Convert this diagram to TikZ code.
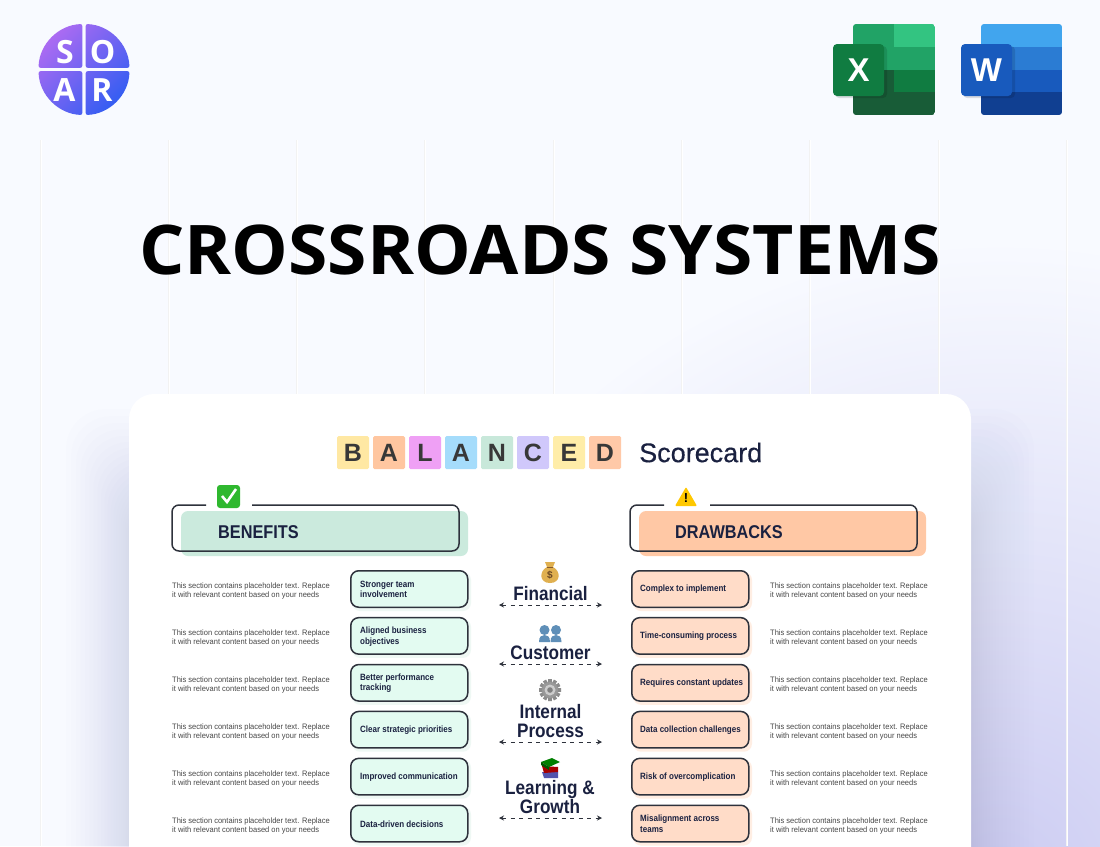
\documentclass[tikz,border=0pt]{standalone}
\usepackage{fontspec}
\setmainfont{Liberation Sans}
\newfontfamily\titlefont[FakeStretch=1.042]{Open Sans}
\newfontfamily\logofont{Open Sans}
\newfontfamily\itemfont[FakeStretch=0.88]{Liberation Sans}
\newfontfamily\bodyfont[FakeStretch=0.95]{Liberation Sans}
\newfontfamily\scorefont[FakeBold=0.35]{Liberation Sans}
\usetikzlibrary{arrows.meta,calc}
\definecolor{bgc}{HTML}{F8FAFF}
\definecolor{lav}{HTML}{CCCCF2}
\definecolor{shd}{HTML}{8A90D0}
\definecolor{ink}{HTML}{1A2140}
\definecolor{edge}{HTML}{2E323C}
\definecolor{mint}{HTML}{E3FBF1}
\definecolor{minthd}{HTML}{CBEADD}
\definecolor{peach}{HTML}{FFDCC8}
\definecolor{peachhd}{HTML}{FFC8A5}
\definecolor{logoa}{HTML}{B66CF2}
\definecolor{logob}{HTML}{2A5CF2}
\definecolor{xlg1}{HTML}{21A366}
\definecolor{xlg2}{HTML}{33C481}
\definecolor{xlg3}{HTML}{107C41}
\definecolor{xlg4}{HTML}{185C37}
\definecolor{wd1}{HTML}{41A5EE}
\definecolor{wd2}{HTML}{2B7CD3}
\definecolor{wd3}{HTML}{185ABD}
\definecolor{wd4}{HTML}{103F91}
\definecolor{bagc}{HTML}{E0B050}
\definecolor{bust}{HTML}{5F8FB8}
\definecolor{chk}{HTML}{2FB82F}
\definecolor{warnc}{HTML}{FFC800}
\tikzset{
  lettercell/.style={minimum width=32pt,minimum height=33pt,inner sep=0pt,rounded corners=1.5pt,text=black!78,font=\fontsize{25}{25}\selectfont\bfseries},
  headfill/.style={rounded corners=7pt},
  headline/.style={draw=edge,line width=1.5pt},
  headtext/.style={anchor=west,inner sep=0pt,text=ink,font=\itemfont\fontsize{18.5}{18.5}\selectfont\bfseries},
  itembox/.style={anchor=north west,draw=edge,line width=1.5pt,rounded corners=8pt,minimum width=117pt,minimum height=36.5pt,inner sep=0pt},
  itemshadow/.style={rounded corners=8pt,opacity=.3},
  itemtext/.style={anchor=west,inner sep=0pt,align=left,text=ink,font=\itemfont\fontsize{9.1}{10.6}\selectfont\bfseries},
  bodytext/.style={anchor=west,inner sep=0pt,align=left,text=black!72,font=\bodyfont\fontsize{7.9}{9}\selectfont},
  midtext/.style={inner sep=0pt,align=center,text=ink,font=\itemfont\fontsize{19.5}{19}\selectfont\bfseries},
  dasharrow/.style={draw=edge,line width=.8pt,dash pattern=on 4pt off 4.5pt,{Stealth[length=5pt,width=5pt]}-{Stealth[length=5pt,width=5pt]}},
  gridline/.style={line width=1.5pt,white},
  logoletter/.style={inner sep=0pt,text=white,font=\logofont\fontsize{32}{32}\selectfont\bfseries},
  officeletter/.style={inner sep=0pt,text=white,font=\fontsize{33}{33}\selectfont\bfseries}
}
\begin{document}
\begin{tikzpicture}[x=1pt,y=-1pt]
\useasboundingbox (0,0) rectangle (1100,846);
% background
\fill[bgc] (0,0) rectangle (1100,846);
\begin{scope}
\clip (0,0) rectangle (1100,846);
\shade[inner color=lav,outer color=bgc] (1000,880) circle (640);
\foreach \x in {41,169,297,425,554,682,810,939,1067}{
  \draw[black!5,line width=1pt] (\x-1,140) -- (\x-1,846);
  \draw[gridline] (\x+.3,140) -- (\x+.3,846);
}
\foreach \i in {1,...,25}{
  \pgfmathsetmacro{\off}{65*(\i/25)^2}
  \fill[shd,opacity=.011,rounded corners=40pt] (131-\off,500-1.4*\off) rectangle (969+\off,900);
}
\fill[white,rounded corners=25pt] (129,394) rectangle (971,900);
\end{scope}
% SOAR logo
\begin{scope}
\clip[rounded corners=2pt]
  (82.3,67.8) -- (38.53,67.8) arc[start angle=182.14,end angle=267.86,radius=45.5] -- cycle
  (85.7,67.8) -- (85.7,24.03) arc[start angle=272.14,end angle=357.86,radius=45.5] -- cycle
  (85.7,71.2) -- (129.47,71.2) arc[start angle=2.14,end angle=87.86,radius=45.5] -- cycle
  (82.3,71.2) -- (82.3,114.97) arc[start angle=92.14,end angle=177.86,radius=45.5] -- cycle;
\shade[top color=logoa,bottom color=logob,shading angle=45] (30,15) rectangle (138,124);
\end{scope}
\node[logoletter] (ls) at (65,52.5) {S};
\node[logoletter] (lo) at (102.5,52.5) {O};
\node[logoletter] (la) at (64.5,90) {A};
\node[logoletter] (lr) at (102,90) {R};
% Excel
\begin{scope}
\clip[rounded corners=3pt] (853,24) rectangle (935,115);
\fill[xlg1] (853,24) rectangle (894,47);
\fill[xlg2] (894,24) rectangle (935,47);
\fill[xlg1] (853,47) rectangle (935,70);
\fill[xlg4] (853,70) rectangle (894,92);
\fill[xlg3] (894,70) rectangle (935,92);
\fill[xlg4] (853,92) rectangle (935,115);
\end{scope}
\fill[black,opacity=.12,rounded corners=4pt] (835,46) rectangle (887,98);
\fill[xlg3,rounded corners=4pt] (833,44) rectangle (884,96);
\node[officeletter] (xl) at (858.5,70) {X};
% Word
\begin{scope}
\clip[rounded corners=3pt] (981,24) rectangle (1062,115);
\fill[wd1] (981,24) rectangle (1062,47);
\fill[wd2] (981,47) rectangle (1062,70);
\fill[wd3] (981,70) rectangle (1062,92);
\fill[wd4] (981,92) rectangle (1062,115);
\end{scope}
\fill[black,opacity=.12,rounded corners=4pt] (963,46) rectangle (1015,98);
\fill[wd3,rounded corners=4pt] (961,44) rectangle (1012,96);
\node[officeletter] (wl) at (986.5,70) {W};
% Title
\node[inner sep=0pt,text=black,font=\titlefont\fontsize{68.5}{69}\selectfont\bfseries] (title) at (540,249.5) {CROSSROADS SYSTEMS};
% Balanced
\foreach \n/\lt/\cc [count=\i from 0] in {b1/B/FFE8A3,b2/A/FFC6A0,b3/L/EFA0F5,b4/A/A5DCFB,b5/N/C8E8DA,b6/C/D0C8FB,b7/E/FFEDA8,b8/D/FFC9A8}{
  \definecolor{cellc}{HTML}{\cc}
  \node[lettercell,fill=cellc] (\n) at (353+36*\i,452.5) {\lt};
}
\node[anchor=west,inner sep=0pt,text=ink,font=\scorefont\fontsize{27}{27}\selectfont] (score) at (639,452.5) {Scorecard};
% Benefits head
\fill[minthd,headfill] (181,511) rectangle (468,556);
\draw[headline,rounded corners=7pt] (206,505) -- (172,505) -- (172,551) -- (459,551) -- (459,505) -- (252,505);
\node[headtext] (ben) at (218,532) {BENEFITS};
\fill[chk,rounded corners=3pt] (217,485) rectangle (240,508);
\draw[white,line width=2.6pt] (222,496) -- (227,502) -- (236,489);
% Drawbacks head
\fill[peachhd,headfill] (639,511) rectangle (926,556);
\draw[headline,rounded corners=7pt] (664,505) -- (630,505) -- (630,551) -- (917,551) -- (917,505) -- (710,505);
\node[headtext] (dra) at (675,532) {DRAWBACKS};
\fill[warnc,rounded corners=1pt] (686,487) -- (697,506) -- (675,506) -- cycle;
\node[inner sep=0pt,text=black,font=\fontsize{13}{13}\selectfont\bfseries] (warn) at (686,498) {!};
% Rows
\foreach \ii/\ll/\rr [count=\k from 0] in {
 1/{Stronger team\\involvement}/{Complex to implement},
 2/{Aligned business\\objectives}/{Time-consuming process},
 3/{Better performance\\tracking}/{Requires constant updates},
 4/{Clear strategic priorities}/{Data collection challenges},
 5/{Improved communication}/{Risk of overcomplication},
 6/{Data-driven decisions}/{Misalignment across\\teams}}{
  \pgfmathsetmacro{\yy}{570+46.9*\k}
  \fill[minthd,itemshadow] (352,\yy+2) rectangle (471,\yy+41);
  \node[itembox,fill=mint] (lb\ii) at (350,\yy) {};
  \node[itemtext] (lt\ii) at (360,\yy+19.5) {\ll};
  \node[bodytext] (lp\ii) at (172,\yy+21) {This section contains placeholder text. Replace\\it with relevant content based on your needs};
  \fill[peachhd,itemshadow] (633,\yy+2) rectangle (752,\yy+41);
  \node[itembox,fill=peach] (rb\ii) at (631,\yy) {};
  \node[itemtext] (rt\ii) at (640,\yy+19.5) {\rr};
  \node[bodytext] (rp\ii) at (770,\yy+21) {This section contains placeholder text. Replace\\it with relevant content based on your needs};
}
% Middle labels
\node[midtext] (mf) at (550.5,594) {Financial};
\node[midtext] (mc) at (550.5,653) {Customer};
\node[midtext] (mi) at (550.5,721) {Internal\\Process};
\node[midtext] (ml) at (550,797) {Learning \&\\Growth};
\foreach \n/\y in {f/605,c/664,i/742,l/818}{
  \coordinate (a\n) at (499,\y);
  \coordinate (b\n) at (602,\y);
  \draw[dasharrow] (a\n) -- (b\n);
}
% money bag
\fill[bagc] (545,562) -- (555,562) -- (553,567) .. controls (561,571) and (561,583) .. (550,583) .. controls (539,583) and (539,571) .. (547,567) -- cycle;
\draw[brown!70!black,line width=1pt] (547,567) -- (553,567);
\node[inner sep=0pt,text=brown!55!black,font=\fontsize{10}{10}\selectfont\bfseries] (dollar) at (550,575.5) {\$};
% busts
\foreach \cx in {544.5,556}{
  \fill[bust] (\cx,630) circle (5);
  \fill[bust] (\cx-5.5,642) .. controls (\cx-5.5,636.5) and (\cx-3,635) .. (\cx,635) .. controls (\cx+3,635) and (\cx+5.5,636.5) .. (\cx+5.5,642) -- cycle;
}
% gear
\foreach \a in {0,30,...,330}{
  \fill[black!45] (550,690) ++(\a:6) -- ++(\a+90:1.8) -- ++(\a:5) -- ++(\a-90:3.6) -- ++(\a:-5) -- cycle;
}
\fill[black!40] (550,690) circle (8);
\fill[black!20] (550,690) circle (5.5);
\fill[black!50] (550,690) circle (2.8);
% books
\fill[blue!35!gray] (542,772) -- (558,772) -- (558,778) -- (544,778) -- cycle;
\fill[red!65!black] (542,766) -- (558,767) -- (558,772) -- (544,773) -- cycle;
\fill[green!50!black] (541,762) -- (552,758) -- (560,762) -- (549,767) -- cycle;
\fill[green!35!black] (541,762) -- (549,767) -- (549,770) -- (541,765) -- cycle;
\end{tikzpicture}
\end{document}
